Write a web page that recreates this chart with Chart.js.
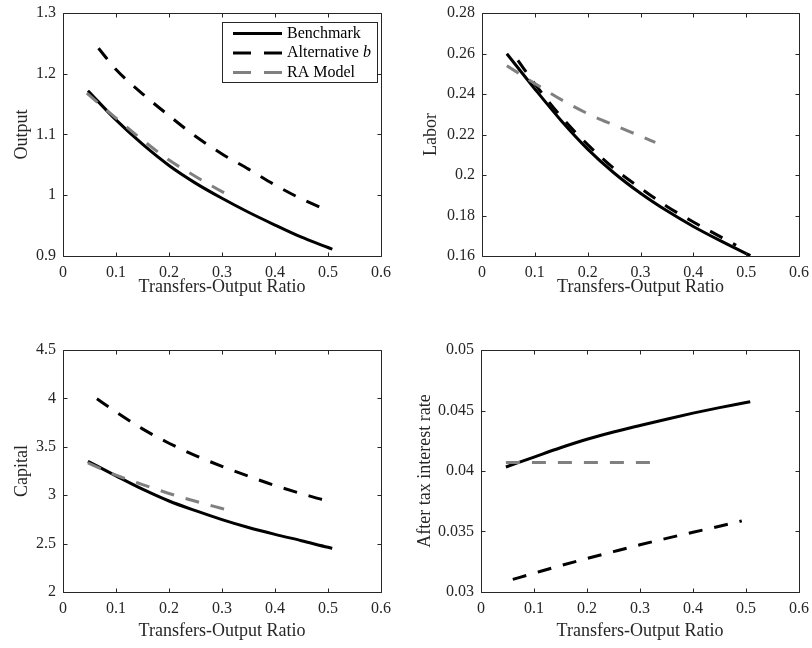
<!DOCTYPE html>
<html><head><meta charset="utf-8">
<script src="https://cdn.jsdelivr.net/npm/chart.js@4.4.1/dist/chart.umd.min.js"></script>
<style>
html,body{margin:0;padding:0;background:#fff;}
#wrap{position:relative;width:812px;height:648px;overflow:hidden;background:#fff;}
canvas{position:absolute;}
</style></head><body>
<div id="wrap">
<canvas id="c0" width="406" height="324" style="left:0;top:0"></canvas>
<canvas id="c1" width="406" height="324" style="left:406px;top:0"></canvas>
<canvas id="c2" width="406" height="324" style="left:0;top:324px"></canvas>
<canvas id="c3" width="406" height="324" style="left:406px;top:324px"></canvas>
</div>
<script>
// ---------- tick values / labels ----------
const xTicks = [0, 0.1, 0.2, 0.3, 0.4, 0.5, 0.6];
const xTickLabels = ['0', '0.1', '0.2', '0.3', '0.4', '0.5', '0.6'];
const outputTicks = [0.9, 1, 1.1, 1.2, 1.3];
const outputTickLabels = ['0.9', '1', '1.1', '1.2', '1.3'];
const laborTicks = [0.16, 0.18, 0.2, 0.22, 0.24, 0.26, 0.28];
const laborTickLabels = ['0.16', '0.18', '0.2', '0.22', '0.24', '0.26', '0.28'];
const capitalTicks = [2, 2.5, 3, 3.5, 4, 4.5];
const capitalTickLabels = ['2', '2.5', '3', '3.5', '4', '4.5'];
const rateTicks = [0.03, 0.035, 0.04, 0.045, 0.05];
const rateTickLabels = ['0.03', '0.035', '0.04', '0.045', '0.05'];

const seriesNames = ['Benchmark', 'Alternative b', 'RA Model'];
const xTitle = 'Transfers-Output Ratio';
const panelTitles = ['Output', 'Labor', 'Capital', 'After tax interest rate'];

// ---------- Output ----------
const outBenchX = [0.047, 0.1, 0.15, 0.2, 0.25, 0.3, 0.35, 0.4, 0.45, 0.5, 0.508];
const outBenchY = [1.172, 1.124, 1.084, 1.049, 1.020, 0.995, 0.972, 0.951, 0.931, 0.914, 0.911];
const outAltX = [0.067, 0.1, 0.15, 0.2, 0.25, 0.3, 0.35, 0.4, 0.45, 0.5, 0.503];
const outAltY = [1.242, 1.207, 1.167, 1.131, 1.097, 1.068, 1.043, 1.017, 0.994, 0.975, 0.974];
const outRaX = [0.045, 0.1, 0.15, 0.2, 0.25, 0.3, 0.309];
const outRaY = [1.168, 1.127, 1.091, 1.058, 1.031, 1.006, 1.002];

// ---------- Labor ----------
const labBenchX = [0.047, 0.1, 0.15, 0.2, 0.25, 0.3, 0.35, 0.4, 0.45, 0.5, 0.508];
const labBenchY = [0.2599, 0.2425, 0.2268, 0.2128, 0.2010, 0.1910, 0.1823, 0.1746, 0.1677, 0.1612, 0.1602];
const labAltX = [0.068, 0.1, 0.15, 0.2, 0.25, 0.3, 0.35, 0.4, 0.45, 0.481];
const labAltY = [0.2566, 0.2450, 0.2288, 0.2150, 0.2032, 0.1935, 0.1845, 0.1768, 0.1697, 0.1653];
const labRaX = [0.047, 0.1, 0.15, 0.2, 0.25, 0.3, 0.328];
const labRaY = [0.2540, 0.2452, 0.2372, 0.2303, 0.2246, 0.2192, 0.2161];

// ---------- Capital ----------
const capBenchX = [0.047, 0.1, 0.15, 0.2, 0.25, 0.3, 0.35, 0.4, 0.45, 0.5, 0.508];
const capBenchY = [3.351, 3.200, 3.062, 2.940, 2.840, 2.748, 2.666, 2.595, 2.530, 2.462, 2.452];
const capAltX = [0.064, 0.1, 0.15, 0.2, 0.25, 0.3, 0.35, 0.4, 0.45, 0.5, 0.503];
const capAltY = [3.996, 3.860, 3.685, 3.537, 3.409, 3.298, 3.196, 3.100, 3.016, 2.936, 2.930];
const capRaX = [0.047, 0.1, 0.15, 0.2, 0.25, 0.3, 0.306];
const capRaY = [3.334, 3.208, 3.110, 3.018, 2.937, 2.862, 2.853];

// ---------- After tax interest rate ----------
const rateBenchX = [0.047, 0.1, 0.15, 0.2, 0.25, 0.3, 0.35, 0.4, 0.45, 0.5, 0.508];
const rateBenchY = [0.04033, 0.04115, 0.04192, 0.04262, 0.04322, 0.04376, 0.04428, 0.04478, 0.04524, 0.04566, 0.04573];
const rateAltX = [0.06, 0.1, 0.15, 0.2, 0.25, 0.3, 0.35, 0.4, 0.45, 0.492];
const rateAltY = [0.03104, 0.03155, 0.03218, 0.03277, 0.03334, 0.03390, 0.03443, 0.03494, 0.03543, 0.03588];
const rateRaX = [0.047, 0.321];
const rateRaY = [0.04071, 0.04071];

// ---------- styling ----------
const FONT = "'Liberation Serif', 'Times New Roman', serif";
const INK = '#262626';
const GRAY = '#808080';
const DASH = [14, 12];
const LEGEND_DASH = [18, 13];
const LW = 3;

function pts(xs, ys) { return xs.map((x, i) => ({ x: x, y: ys[i] })); }

const boxPlugin = {
  id: 'matlabBox',
  afterDatasetsDraw(chart) {
    const { ctx, chartArea: a } = chart;
    const sx = chart.scales.x, sy = chart.scales.y;
    const L = Math.round(a.left) + 0.5, T = Math.round(a.top) + 0.5;
    const R = Math.round(a.right) + 0.5, B = Math.round(a.bottom) + 0.5;
    ctx.save();
    ctx.strokeStyle = INK;
    ctx.lineWidth = 1;
    ctx.beginPath();
    ctx.moveTo(L, T); ctx.lineTo(R, T); ctx.lineTo(R, B); ctx.lineTo(L, B); ctx.closePath();
    const TL = 4;
    sx.ticks.forEach(t => {
      const p = Math.round(sx.getPixelForValue(t.value)) + 0.5;
      ctx.moveTo(p, B); ctx.lineTo(p, B - TL);
      ctx.moveTo(p, T); ctx.lineTo(p, T + TL);
    });
    sy.ticks.forEach(t => {
      const p = Math.round(sy.getPixelForValue(t.value)) + 0.5;
      ctx.moveTo(L, p); ctx.lineTo(L + TL, p);
      ctx.moveTo(R, p); ctx.lineTo(R - TL, p);
    });
    ctx.stroke();
    ctx.restore();
  }
};

const legendPlugin = {
  id: 'matlabLegend',
  afterDraw(chart) {
    const ctx = chart.ctx;
    const x0 = 222.5, y0 = 22.5, w = 155, h = 60;
    ctx.save();
    ctx.fillStyle = '#fff';
    ctx.fillRect(x0, y0, w, h);
    ctx.strokeStyle = INK; ctx.lineWidth = 1;
    ctx.strokeRect(x0, y0, w, h);
    const rows = [33.5, 53, 72.5];
    chart.data.datasets.forEach((ds, i) => {
      const y = rows[i];
      ctx.beginPath();
      ctx.strokeStyle = ds.borderColor;
      ctx.lineWidth = ds.borderWidth;
      ctx.setLineDash(ds.borderDash && ds.borderDash.length ? LEGEND_DASH : []);
      ctx.moveTo(233, y); ctx.lineTo(282, y);
      ctx.stroke();
      ctx.setLineDash([]);
      ctx.fillStyle = '#000';
      ctx.textBaseline = 'middle';
      ctx.textAlign = 'left';
      const label = ds.label;
      const m = label.match(/^(.*\s)(b)$/);
      if (m) {
        ctx.font = '16px ' + FONT;
        ctx.fillText(m[1], 287, y);
        const wd = ctx.measureText(m[1]).width;
        ctx.font = 'italic 16px ' + FONT;
        ctx.fillText(m[2], 287 + wd, y);
      } else {
        ctx.font = '16px ' + FONT;
        ctx.fillText(label, 287, y);
      }
    });
    ctx.restore();
  }
};

function makePanel(id, geo, title, yTicks, yLabels, s, withLegend) {
  const H = 60;
  const ds = [
    { label: seriesNames[0], data: pts(s[0], s[1]), borderColor: '#000', borderWidth: LW, borderDash: [], order: 3 },
    { label: seriesNames[1], data: pts(s[2], s[3]), borderColor: '#000', borderWidth: LW, borderDash: DASH, order: 2 },
    { label: seriesNames[2], data: pts(s[4], s[5]), borderColor: GRAY, borderWidth: LW, borderDash: DASH, order: 1 }
  ];
  ds.forEach(d => { d.pointRadius = 0; d.fill = false; d.cubicInterpolationMode = 'monotone'; d.borderCapStyle = 'butt'; });
  const plugins = [boxPlugin];
  if (withLegend) plugins.push(legendPlugin);
  return new Chart(document.getElementById(id), {
    type: 'line',
    data: { datasets: ds },
    plugins: plugins,
    options: {
      responsive: false,
      animation: false,
      devicePixelRatio: 1,
      layout: { padding: { left: 0, top: geo.t, right: 406 - geo.r, bottom: 324 - geo.b - H } },
      plugins: { legend: { display: false }, tooltip: { enabled: false } },
      scales: {
        x: {
          type: 'linear', min: xTicks[0], max: xTicks[xTicks.length - 1],
          afterBuildTicks: sc => { sc.ticks = xTicks.map(v => ({ value: v })); },
          afterFit: sc => { sc.height = H; sc.paddingLeft = 0; sc.paddingRight = 0; sc.paddingTop = 0; sc.paddingBottom = 0; },
          grid: { display: false, drawTicks: false },
          border: { display: false },
          ticks: { autoSkip: false, maxRotation: 0, padding: 7, color: INK, font: { family: FONT, size: 16 },
                   callback: (v, i) => xTickLabels[i] },
          title: { display: true, text: xTitle, color: INK, font: { family: FONT, size: 18 }, padding: { top: 0, bottom: geo.xb } }
        },
        y: {
          type: 'linear', min: yTicks[0], max: yTicks[yTicks.length - 1],
          afterBuildTicks: sc => { sc.ticks = yTicks.map(v => ({ value: v })); },
          afterFit: sc => { sc.width = geo.l; sc.paddingLeft = 0; sc.paddingRight = 0; sc.paddingTop = 0; sc.paddingBottom = 0; },
          grid: { display: false, drawTicks: false },
          border: { display: false },
          ticks: { autoSkip: false, padding: 7, color: INK, font: { family: FONT, size: 16 },
                   callback: (v, i) => yLabels[i] },
          title: { display: true, text: title, color: INK, font: { family: FONT, size: 18 }, padding: { top: geo.tp, bottom: 0 } }
        }
      }
    }
  });
}

makePanel('c0', { l: 63, t: 13, r: 381, b: 256, tp: 11, xb: 18 }, panelTitles[0], outputTicks, outputTickLabels,
  [outBenchX, outBenchY, outAltX, outAltY, outRaX, outRaY], true);
makePanel('c1', { l: 76, t: 13, r: 393, b: 256, tp: 14, xb: 18 }, panelTitles[1], laborTicks, laborTickLabels,
  [labBenchX, labBenchY, labAltX, labAltY, labRaX, labRaY], false);
makePanel('c2', { l: 63, t: 26, r: 381, b: 268, tp: 11, xb: 10 }, panelTitles[2], capitalTicks, capitalTickLabels,
  [capBenchX, capBenchY, capAltX, capAltY, capRaX, capRaY], false);
makePanel('c3', { l: 75, t: 26, r: 393, b: 268, tp: 8, xb: 10 }, panelTitles[3], rateTicks, rateTickLabels,
  [rateBenchX, rateBenchY, rateAltX, rateAltY, rateRaX, rateRaY], false);
</script>
</body></html>
